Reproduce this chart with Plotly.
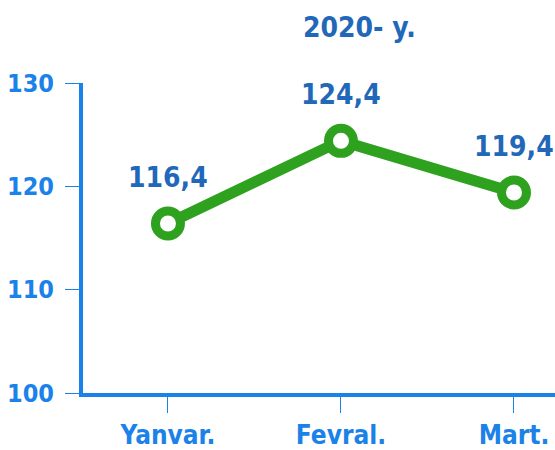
import plotly.graph_objects as go

months = ["Yanvar.", "Fevral.", "Mart."]
values = [116.4, 124.4, 119.4]
labels = ["116,4", "124,4", "119,4"]
title_text = "2020- y."
y_ticks = [100, 110, 120, 130]

FONT = "Liberation Sans Narrow, DejaVu Sans Condensed, Arial Narrow, sans-serif"
BLUE = "#1a82e8"
DARK = "#2268b8"
GREEN = "#2ea21e"

fig = go.Figure()
fig.add_trace(go.Scatter(
    x=months, y=values, mode="lines+markers",
    line=dict(color=GREEN, width=11),
    marker=dict(symbol="circle", size=25, color="white",
                line=dict(color=GREEN, width=9)),
    cliponaxis=False, hoverinfo="skip"))

for m, v, t in zip(months, values, labels):
    fig.add_annotation(x=m, y=v, text="<b>%s</b>" % t, showarrow=False,
                       yshift=46, font=dict(family=FONT, size=28, color=DARK))

fig.add_annotation(xref="paper", yref="paper", x=0.585, y=1.18, yanchor="middle",
                   text="<b>%s</b>" % title_text,
                   showarrow=False, font=dict(family=FONT, size=28, color=DARK))

fig.update_layout(
    width=555, height=450,
    margin=dict(l=83, r=0, t=83, b=55),
    paper_bgcolor="white", plot_bgcolor="white",
    showlegend=False,
    font=dict(family=FONT, size=26, color=BLUE),
    xaxis=dict(range=[-0.491, 2.237], showgrid=False, zeroline=False,
               showline=True, linecolor=BLUE, linewidth=4,
               ticks="outside", ticklen=16, tickwidth=1, tickcolor=BLUE,
               tickvals=months, ticktext=["<b>%s</b>" % m for m in months],
               tickfont=dict(family=FONT, size=26, color=BLUE)),
    yaxis=dict(range=[100, 130], showgrid=False, zeroline=False,
               showline=True, linecolor=BLUE, linewidth=4,
               ticks="outside", ticklen=14, tickwidth=1, tickcolor=BLUE,
               ticklabelstandoff=6,
               tickvals=y_ticks, ticktext=["<b>%d</b>" % v for v in y_ticks],
               tickfont=dict(family=FONT, size=25, color=BLUE)),
)

fig.write_html("out.html", config={"displayModeBar": False},
               post_script="document.body.style.margin='0';document.body.style.overflow='hidden';")
